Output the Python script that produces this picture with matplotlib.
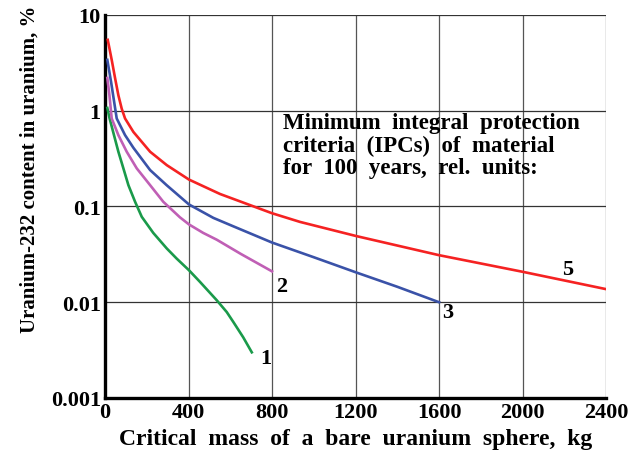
import matplotlib
matplotlib.use("Agg")
import matplotlib.pyplot as plt

# ── Data (critical mass kg vs U-232 content %) ──

curve1_x = [11, 22, 43, 64, 88, 112, 144, 176, 231, 296, 343, 402, 455, 535, 583, 615, 662, 703]
curve1_y = [1.07, 0.83, 0.556, 0.373, 0.25, 0.167, 0.112, 0.078, 0.053, 0.0364, 0.0286, 0.0216,
            0.0163, 0.0105, 0.0079, 0.0062, 0.0043, 0.003]

curve2_x = [11, 21, 32, 64, 104, 152, 216, 279, 359, 402, 470, 535, 650, 800]
curve2_y = [2.2, 1.46, 0.83, 0.556, 0.373, 0.25, 0.167, 0.112, 0.077, 0.065, 0.053, 0.045, 0.032, 0.021]

curve3_x = [11, 29, 56, 96, 136, 216, 295, 402, 519, 615, 800, 1000, 1205, 1400, 1600]
curve3_y = [3.4, 2.0, 0.83, 0.556, 0.41, 0.24, 0.167, 0.105, 0.076, 0.062, 0.042, 0.0295,
            0.0204, 0.0145, 0.010]

curve5_x = [13, 32, 48, 64, 80, 96, 136, 216, 296, 402, 551, 800, 934, 1205, 1600, 2000, 2400]
curve5_y = [5.5, 3.4, 2.2, 1.45, 1.05, 0.83, 0.6, 0.373, 0.27, 0.191, 0.135, 0.085, 0.069, 0.049,
            0.031, 0.0208, 0.0137]

x_ticks = [0, 400, 800, 1200, 1600, 2000, 2400]
y_ticks = [0.001, 0.01, 0.1, 1, 10]
y_tick_labels = ["0.001", "0.01", "0.1", "1", "10"]

curve_labels = ["1", "2", "3", "5"]
label_pos = [(770, 0.0026), (846, 0.0148), (1640, 0.0080), (2215, 0.0220)]

note = ("Minimum  integral  protection\n"
        "criteria  (IPCs)  of  material\n"
        "for  100  years,  rel.  units:")

plt.rcParams["font.family"] = ["Liberation Serif", "DejaVu Serif"]
plt.rcParams["font.weight"] = "bold"

fig = plt.figure(figsize=(6.38, 4.56), dpi=100)
ax = fig.add_axes([0.1646, 0.125, 0.7854, 0.84])

ax.set_yscale("log")
ax.set_xlim(0, 2400)
ax.set_ylim(0.001, 10)

# grid
for gx in x_ticks[1:]:
    ax.axvline(gx, color="#555555", lw=0.9, zorder=1)
for gy in y_ticks[1:]:
    ax.axhline(gy, color="#333333", lw=0.9, zorder=1)

lw = 1.9
ax.plot(curve1_x, curve1_y, color="#1a9a4a", lw=lw, zorder=3, solid_joinstyle="round")
ax.plot(curve2_x, curve2_y, color="#c05fb5", lw=lw, zorder=3, solid_joinstyle="round")
ax.plot(curve3_x, curve3_y, color="#3a52a8", lw=lw, zorder=3, solid_joinstyle="round")
ax.plot(curve5_x, curve5_y, color="#f52222", lw=lw, zorder=3, solid_joinstyle="round")

for lab, (lx, ly) in zip(curve_labels, label_pos):
    ax.text(lx, ly, lab, fontsize=16, fontweight="bold", ha="center", va="center")

ax.text(853, 0.96, note, fontsize=16.5, fontweight="bold", ha="left", va="top", linespacing=1.08)

for side in ("top", "right"):
    ax.spines[side].set_visible(False)
ax.spines["left"].set_linewidth(2.4)
ax.spines["bottom"].set_linewidth(2.4)

ax.set_xticks(x_ticks)
ax.set_xticklabels([str(v) for v in x_ticks])
ax.set_yticks(y_ticks)
ax.set_yticklabels(y_tick_labels)
ax.minorticks_off()
ax.tick_params(length=0, labelsize=16, pad=3)
for t in ax.get_xticklabels() + ax.get_yticklabels():
    t.set_fontweight("bold")

ax.set_xlabel("Critical  mass  of  a  bare  uranium  sphere,  kg", fontsize=17,
              fontweight="bold", labelpad=4)
ax.set_ylabel("Uranium-232 content in uranium, %", fontsize=15, fontweight="bold")
ax.yaxis.set_label_coords(-0.13, 0.6)

fig.savefig("out.png", dpi=100)
